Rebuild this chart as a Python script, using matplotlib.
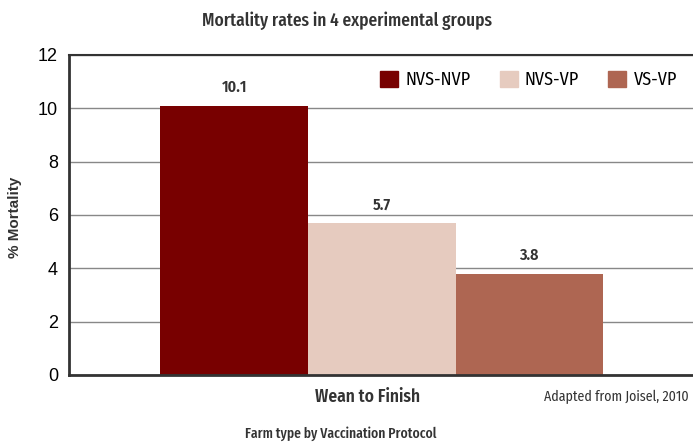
import matplotlib
matplotlib.use("Agg")
import matplotlib.pyplot as plt
from matplotlib.patches import Patch
from matplotlib import font_manager

# data
groups = ["NVS-NVP", "NVS-VP", "VS-VP"]
mortality = [10.1, 5.7, 3.8]
colors = ["#780000", "#e6cbbf", "#ae6652"]
yticks = [0, 2, 4, 6, 8, 10, 12]

# pick condensed sans fonts that are installed
installed = set(f.name for f in font_manager.fontManager.ttflist)

def first_font(cands):
    for name in cands:
        if name in installed:
            return name
    return 'DejaVu Sans'

cond = first_font(['Fira Sans Condensed', 'PT Sans Narrow', 'Sofia Sans Semi Condensed'])
xcond = first_font(['Fira Sans Extra Condensed', 'Sofia Sans Condensed', cond])
# narrower font -> bigger size for the same width
tscale = 1.0 if xcond != cond else 0.88

plt.rcParams['font.family'] = [cond, 'DejaVu Sans']

fig = plt.figure(figsize=(6.93, 4.42), dpi=100)
ax = fig.add_axes([0.0996, 0.1516, 0.9004, 0.724])

xpos = [-1, 0, 1]
ax.bar(xpos, mortality, width=1.0, color=colors, zorder=2)
for x, v in zip(xpos, mortality):
    ax.text(x, v + 0.38, f"{v:.1f}", ha='center', va='bottom', fontsize=11.5,
            fontweight='semibold', color='#333333')

ax.set_xlim(-2.12, 2.11)
ax.set_ylim(0, 12)
ax.set_yticks(yticks)
ax.set_yticklabels([str(t) for t in yticks], family='Liberation Sans', fontsize=13)
ax.set_xticks([])
ax.yaxis.grid(True, color='#888888', linewidth=1, zorder=0)
ax.tick_params(axis='y', length=0, pad=8)

for s in ['left', 'bottom', 'top']:
    ax.spines[s].set_linewidth(2)
    ax.spines[s].set_color('#333333')
ax.spines['top'].set_linewidth(1.5)
ax.spines['right'].set_visible(False)

handles = [Patch(color=c, label=g) for g, c in zip(groups, colors)]
ax.legend(handles=handles, loc='upper right', ncol=3, frameon=False,
          bbox_to_anchor=(1.0, 1.0), handlelength=1.0,
          handleheight=1.0, handletextpad=0.4, columnspacing=1.6,
          prop={'family': cond, 'size': 13})

# titles and notes
fig.text(0.5, 0.953, "Mortality rates in 4 experimental groups", ha='center',
         va='center', fontsize=13.6 * tscale, fontweight='medium', color='#333333',
         family=[xcond, 'DejaVu Sans'])
fig.text(0.022, 0.508, "% Mortality", rotation=90, ha='center', va='center',
         fontsize=11, fontweight='bold', color='#333333',
         family='Liberation Sans')
fig.text(0.531, 0.102, "Wean to Finish", ha='center', va='center',
         fontsize=12.5, fontweight='semibold', color='#333333')
fig.text(0.993, 0.102, "Adapted from Joisel, 2010", ha='right', va='center',
         fontsize=10, color='#333333')
fig.text(0.491, 0.018, "Farm type by Vaccination Protocol", ha='center',
         va='center', fontsize=10.6 * tscale / 0.96 * 0.96, fontweight='medium',
         color='#333333', family=[xcond, 'DejaVu Sans'])

fig.savefig("out.png", dpi=100)
